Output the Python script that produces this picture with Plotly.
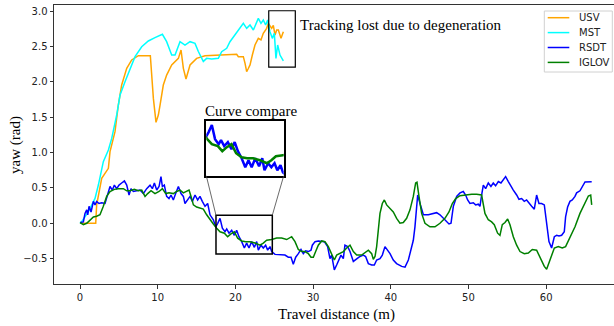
import plotly.graph_objects as go

# ---------------- data ----------------
usv_x = [0.0, 2.02, 2.14, 2.79, 3.65, 3.86, 4.50, 4.93, 5.36, 6.01, 6.65, 7.51, 9.05, 9.44, 9.78, 10.08,
         10.30, 10.72, 11.15, 11.80, 12.66, 13.0, 13.3, 13.64, 14.16, 15.01, 16.09, 17.37, 18.66, 20.16,
         20.38, 21.02, 21.24, 21.45, 21.66, 21.88, 22.18, 22.52, 22.95, 23.29, 23.59, 24.02, 24.24, 24.67,
         24.88, 25.10, 25.31, 25.53, 25.87, 26.17]
usv_y = [0.0, 0.0, 0.26, 0.635, 0.777, 1.013, 1.296, 1.673, 1.956, 2.192, 2.310, 2.371, 2.371, 1.767, 1.428,
         1.531, 1.673, 1.956, 2.097, 2.239, 2.333, 2.451, 2.192, 2.041, 2.239, 2.333, 2.371, 2.38, 2.38, 2.39,
         2.357, 2.357, 2.263, 2.145, 2.19, 2.24, 2.38, 2.522, 2.616, 2.593, 2.687, 2.758, 2.829, 2.758,
         2.80, 2.663, 2.734, 2.734, 2.616, 2.71]

mst_x = [0.0, 0.21, 1.07, 1.93, 2.36, 3.0, 3.65, 4.08, 4.72, 5.15, 5.79, 6.43, 7.08, 7.94, 8.79, 9.65, 10.6,
         11.15, 11.80, 12.23, 12.87, 13.51, 14.16, 14.8, 15.23, 15.87, 16.30, 16.95, 17.8, 18.23, 18.88, 19.3,
         19.95, 20.59, 21.02, 21.45, 21.88, 22.31, 22.95, 23.29, 23.59, 23.89, 24.15, 24.45, 24.75, 25.01,
         25.22, 25.44, 25.74, 26.17]
mst_y = [0.0, 0.022, 0.163, 0.352, 0.541, 0.871, 1.036, 1.201, 1.532, 1.814, 2.003, 2.192, 2.357, 2.498, 2.579,
         2.626, 2.673, 2.569, 2.380, 2.380, 2.569, 2.522, 2.569, 2.545, 2.43, 2.29, 2.333, 2.324, 2.333, 2.428,
         2.475, 2.569, 2.663, 2.758, 2.829, 2.758, 2.805, 2.734, 2.899, 2.829, 2.876, 2.805, 2.876, 2.711,
         2.616, 2.687, 2.333, 2.522, 2.380, 2.296]

rsdt_x = [0.0, 0.43, 0.64, 0.86, 0.99, 1.16, 1.42, 1.72, 1.93, 2.14, 2.44, 2.79, 3.22, 3.65, 3.86, 4.16, 4.42,
          4.72, 5.02, 5.36, 5.71, 6.01, 6.31, 6.56, 6.86, 7.29, 7.72, 8.15, 8.58, 9.01, 9.31, 9.57, 9.87, 10.17,
          10.42, 10.6, 10.85, 11.15, 11.45, 11.71, 12.01, 12.31, 12.66, 13.0, 13.3, 13.51, 13.86, 14.16, 14.46,
          14.8, 15.14, 15.44, 15.74, 16.09, 16.43, 16.73, 17.16, 17.46, 17.72, 18.02, 18.32, 18.66, 18.88,
          19.18, 19.52, 19.86, 20.16, 20.46, 20.81, 21.15, 21.45, 21.75, 22.09, 22.44, 22.74, 22.95, 23.29,
          23.59, 23.89, 24.15, 24.45, 24.67, 25.10, 25.74, 26.38, 26.81, 27.16, 27.45, 27.76, 28.1, 28.44,
          28.74, 29.04, 29.39, 29.73, 29.9, 30.25, 30.67, 31.1, 31.45,
          31.87, 32.17, 32.39, 32.73, 33.03, 33.33, 33.59, 33.89, 34.10, 34.45, 34.75, 35.18, 35.61, 36.03,
          36.46, 36.76, 37.11, 37.54, 37.88, 38.18, 38.61, 38.91, 39.25, 39.60, 39.90, 40.32, 40.75, 41.40,
          41.83, 42.26, 42.60, 42.90, 43.11, 43.33, 43.46, 43.76, 44.19, 44.83, 45.47, 45.90, 46.33, 46.76,
          47.19, 47.49, 47.75, 48.05, 48.48, 48.91, 49.33, 49.63, 49.89, 50.19, 50.62, 50.92, 51.26, 51.48,
          51.69, 51.91, 52.21, 52.55, 52.89, 53.19, 53.49, 53.84, 54.18, 54.48, 54.78, 55.13, 55.47, 55.77,
          56.20, 56.50, 56.84, 57.18, 57.48, 57.78, 58.13, 58.47, 58.77, 59.07, 59.41, 59.76, 60.06, 60.36,
          60.70, 61.05, 61.35, 61.65, 61.99, 62.33, 62.50, 62.76, 63.06, 63.36, 63.71, 63.92, 64.35, 65.0, 65.86]
rsdt_y = [0.01, 0.02, 0.14, 0.19, 0.12, 0.24, 0.16, 0.31, 0.26, 0.31, 0.28, 0.29, 0.28, 0.42, 0.52, 0.47, 0.54,
          0.49, 0.54, 0.57, 0.60, 0.54, 0.40, 0.49, 0.45, 0.46, 0.47, 0.42, 0.49, 0.54, 0.49, 0.57, 0.47, 0.52,
          0.66, 0.52, 0.54, 0.38, 0.35, 0.40, 0.33, 0.42, 0.52, 0.42, 0.38, 0.28, 0.33, 0.38, 0.31,
          0.40, 0.33, 0.38, 0.31, 0.24, 0.28, 0.12, 0.05, -0.05, 0.0, 0.07, -0.07, -0.12, -0.08,
          -0.14, -0.10, -0.17, -0.10, -0.19, -0.26, -0.35, -0.28, -0.35, -0.26, -0.34, -0.26, -0.38, -0.31,
          -0.35, -0.31, -0.38, -0.33, -0.40, -0.44, -0.45, -0.45, -0.48, -0.48, -0.58, -0.48, -0.43, -0.37,
          -0.43, -0.39, -0.40, -0.38, -0.31, -0.26, -0.25, -0.25, -0.26,
          -0.33, -0.50, -0.45, -0.66, -0.59, -0.52, -0.45, -0.50, -0.31, -0.33, -0.40, -0.54, -0.50, -0.47,
          -0.45, -0.47, -0.57, -0.59, -0.59, -0.52, -0.50, -0.45, -0.33, -0.38, -0.43, -0.52, -0.57, -0.61,
          -0.62, -0.52, -0.38, -0.24, -0.05, 0.19, 0.40, 0.28, 0.12, 0.12, 0.14, 0.15, 0.12, 0.07,
          0.02, -0.01, 0.0, 0.24, 0.38, 0.43, 0.45, 0.40, 0.33, 0.28, 0.29, 0.26, 0.27, 0.24,
          0.40, 0.54, 0.49, 0.57, 0.52, 0.57, 0.53, 0.59, 0.57, 0.61, 0.66, 0.59, 0.52, 0.47,
          0.40, 0.34, 0.35, 0.31, 0.33, 0.28, 0.24, 0.20, 0.40, 0.28, 0.28, 0.26, -0.05, -0.26,
          -0.35, -0.19, -0.17, -0.18, -0.17, -0.12, 0.09, 0.23, 0.31, 0.33, 0.38, 0.43, 0.46, 0.584, 0.589]

iglov_x = [0.0, 0.43, 0.86, 1.29, 1.72, 2.14, 2.57, 3.0, 3.43, 3.86, 4.42, 4.93, 5.58, 6.01, 6.43, 6.99, 7.51,
           7.94, 8.37, 8.71, 9.14, 9.65, 10.17, 10.6, 11.03, 11.45, 12.01, 12.44, 12.87, 13.3, 13.73, 14.03,
           14.29, 14.59, 15.01, 15.44, 15.87, 16.30, 16.73, 17.16, 17.59, 18.02, 18.58, 19.0, 19.43, 19.86,
           20.29, 20.81, 21.32, 21.88, 22.52, 23.17, 23.59, 24.02, 24.67, 25.31, 25.95, 26.60, 27.24, 27.67,
           28.10, 28.53, 28.96, 29.39, 29.73, 30.03, 30.33, 30.67, 31.10, 31.53,
           31.96, 32.39, 32.73, 33.03, 33.46, 33.89, 34.32, 34.75, 35.18, 35.61, 36.25, 36.68, 37.11, 37.54,
           37.75, 37.97, 38.18, 38.39, 38.61, 38.91, 39.17, 39.47, 39.90, 40.32, 40.75, 41.18, 41.61, 42.04,
           42.47, 42.90, 43.2, 43.37, 43.63, 43.97, 44.40, 45.04, 45.69, 46.33, 46.97, 47.49, 47.92, 48.35,
           48.91, 49.55, 50.41, 51.05, 51.69, 52.12, 52.55, 52.98, 53.32, 53.75, 54.05, 54.35, 54.70, 55.04,
           55.34, 55.77, 56.20, 56.63, 57.18, 57.70, 58.21, 58.77, 59.33, 59.76, 60.06, 60.49, 61.05, 61.56,
           62.07, 62.50, 63.06, 63.71, 64.35, 64.78, 65.43, 65.73, 65.86]
iglov_y = [0.01, -0.02, 0.0, 0.05, 0.09, 0.10, 0.12, 0.24, 0.38, 0.45, 0.48, 0.49, 0.49, 0.46, 0.46, 0.48, 0.46,
           0.47, 0.38, 0.42, 0.46, 0.42, 0.45, 0.49, 0.42, 0.43, 0.42, 0.45, 0.47, 0.43, 0.46, 0.47,
           0.38, 0.26, 0.23, 0.21, 0.20, 0.12, 0.05, -0.01, -0.07, -0.12, -0.14, -0.19, -0.15, -0.12,
           -0.21, -0.25, -0.26, -0.26, -0.28, -0.31, -0.28, -0.24, -0.23, -0.21, -0.21, -0.23, -0.19, -0.26,
           -0.37, -0.40, -0.40, -0.43, -0.48, -0.48, -0.40, -0.31, -0.25, -0.26,
           -0.33, -0.45, -0.52, -0.45, -0.43, -0.40, -0.35, -0.31, -0.40, -0.45, -0.45, -0.42, -0.38, -0.43,
           -0.51, -0.47, -0.33, -0.10, 0.14, 0.28, 0.33, 0.26, 0.21, 0.16, 0.07, 0.0, 0.01, 0.07,
           0.19, 0.38, 0.57, 0.58, 0.38, 0.14, 0.0, -0.05, -0.05, 0.0, 0.07, 0.16, 0.28, 0.35,
           0.39, 0.40, 0.41, 0.41, 0.40, 0.14, 0.05, 0.02, -0.02, -0.14, -0.17, -0.02, 0.01, 0.06,
           -0.02, -0.19, -0.31, -0.40, -0.43, -0.42, -0.37, -0.38, -0.50, -0.61, -0.65, -0.52, -0.35, -0.33,
           -0.35, -0.33, -0.21, -0.05, 0.14, 0.235, 0.386, 0.40, 0.26]

names = ["USV", "MST", "RSDT", "IGLOV"]
colors = ["#FFA500", "#00FFFF", "#0000FF", "#008000"]
x_ticks = [0, 10, 20, 30, 40, 50, 60]
y_ticks = [-0.5, 0.0, 0.5, 1.0, 1.5, 2.0, 2.5, 3.0]

# ---------------- layout constants ----------------
W, H = 614, 326
ML, MT, MB = 54, 5, 42
PW, PH = W - ML, H - MT - MB
x_range = [-3.35, 68.73]
y_range = [-0.859, 3.088]

zoom_x = [17.5, 24.75]      # region shown in the inset
zoom_y = [-0.434, 0.113]
inset_x = [16.25, 26.22]    # where the inset sits (main data coords)
inset_y = [0.673, 1.451]
track_x = [24.29, 27.71]
track_y = [2.21, 3.007]

SERIF = "Liberation Serif, Times New Roman, serif"
SANS = "DejaVu Sans, sans-serif"


def fx(v):
    return (v - x_range[0]) / (x_range[1] - x_range[0])


def fy(v):
    return (v - y_range[0]) / (y_range[1] - y_range[0])


def px(p):
    return (p - ML) / PW


def py(p):
    return (H - MB - p) / PH


series = list(zip(names, [usv_x, mst_x, rsdt_x, iglov_x], [usv_y, mst_y, rsdt_y, iglov_y], colors))

fig = go.Figure()
for name, xs, ys, c in series:
    fig.add_trace(go.Scatter(x=xs, y=ys, mode="lines", name=name,
                             line=dict(color=c, width=1.5), showlegend=False, hoverinfo="skip"))
for name, xs, ys, c in series[2:]:
    fig.add_trace(go.Scatter(x=xs, y=ys, mode="lines", name=name + " (zoom)",
                             line=dict(color=c, width=2.5), xaxis="x2", yaxis="y2",
                             showlegend=False, hoverinfo="skip"))

axis_common = dict(showgrid=False, zeroline=False, automargin=False)

fig.update_layout(
    width=W, height=H,
    margin=dict(l=ML, r=0, t=MT, b=MB, pad=0, autoexpand=False),
    paper_bgcolor="white", plot_bgcolor="white",
    template="none",
    font=dict(family=SANS, size=10, color="#222"),
    showlegend=False,
    xaxis=dict(range=x_range, domain=[0, 1], showline=True, linecolor="#333", linewidth=1, mirror=True,
               ticks="outside", ticklen=3.5, tickwidth=0.8, tickcolor="#333", tickvals=x_ticks,
               tickfont=dict(family=SANS, size=10, color="#222"), **axis_common),
    yaxis=dict(range=y_range, domain=[0, 1], showline=True, linecolor="#333", linewidth=1, mirror=False,
               ticks="outside", ticklen=3.5, tickwidth=0.8, tickcolor="#333", tickvals=y_ticks,
               tickformat=".1f", tickfont=dict(family=SANS, size=10, color="#222"), **axis_common),
    xaxis2=dict(range=zoom_x, domain=[fx(inset_x[0]), fx(inset_x[1])], anchor="y2",
                showline=True, linecolor="black", linewidth=1.5, mirror=True,
                showticklabels=False, ticks="", **axis_common),
    yaxis2=dict(range=zoom_y, domain=[fy(inset_y[0]), fy(inset_y[1])], anchor="x2",
                showline=True, linecolor="black", linewidth=1.5, mirror=True,
                showticklabels=False, ticks="", **axis_common),
)

shapes = [
    dict(type="rect", xref="x", yref="y", x0=zoom_x[0], x1=zoom_x[1], y0=zoom_y[0], y1=zoom_y[1],
         line=dict(color="black", width=1.5)),
    dict(type="line", xref="x", yref="y", x0=inset_x[0], y0=inset_y[0], x1=zoom_x[0], y1=zoom_y[1],
         line=dict(color="#444", width=0.8)),
    dict(type="line", xref="x", yref="y", x0=inset_x[1], y0=inset_y[0], x1=zoom_x[1], y1=zoom_y[1],
         line=dict(color="#444", width=0.8)),
    dict(type="rect", xref="x", yref="y", x0=track_x[0], x1=track_x[1], y0=track_y[0], y1=track_y[1],
         line=dict(color="black", width=1.2)),
    # legend frame
    dict(type="rect", xref="paper", yref="paper", x0=px(544.3), x1=px(612.3), y0=py(72), y1=py(11),
         line=dict(color="#d0d0d0", width=1), fillcolor="rgba(255,255,255,0.85)"),
]
annotations = []
for i, (name, c) in enumerate(zip(names, colors)):
    yy = 17.7 + i * 14.9
    shapes.append(dict(type="line", xref="paper", yref="paper", x0=px(547.7), x1=px(569.3),
                       y0=py(yy), y1=py(yy), line=dict(color=c, width=1.5)))
    annotations.append(dict(xref="paper", yref="paper", x=px(576.5), y=py(yy), text=name, showarrow=False,
                            xanchor="left", yanchor="middle", font=dict(family=SANS, size=10, color="#222")))

annotations += [
    dict(xref="x", yref="y", x=28.0, y=2.81, text="Tracking lost due to degeneration", showarrow=False,
         xanchor="left", yanchor="middle", font=dict(family=SERIF, size=15, color="black")),
    dict(xref="x", yref="y", x=15.85, y=1.595, text="Curve compare", showarrow=False,
         xanchor="left", yanchor="middle", font=dict(family=SERIF, size=15, color="black")),
    dict(xref="paper", yref="paper", x=px(336), y=py(314), text="Travel distance (m)", showarrow=False,
         xanchor="center", yanchor="middle", font=dict(family=SERIF, size=15, color="black")),
    dict(xref="paper", yref="paper", x=px(15), y=py(145), text="yaw (rad)", showarrow=False, textangle=-90,
         xanchor="center", yanchor="middle", font=dict(family=SERIF, size=15, color="black")),
]

fig.update_layout(shapes=shapes, annotations=annotations)
fig.write_html("out.html")
